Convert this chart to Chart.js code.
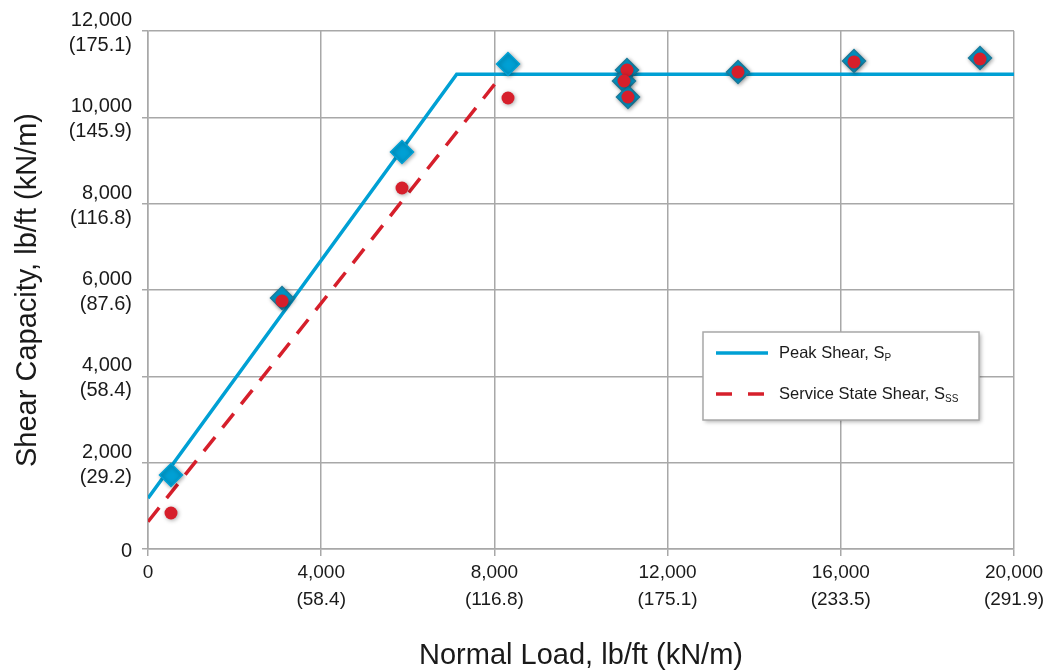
<!DOCTYPE html>
<html>
<head>
<meta charset="utf-8">
<script src="https://cdn.jsdelivr.net/npm/chart.js@4"></script>
<style>
  html, body { margin: 0; padding: 0; background: #fff; }
  #wrap { width: 1043px; height: 670px; position: relative; }
</style>
</head>
<body>
<div id="wrap"><canvas id="chart"></canvas></div>
<script>
// measured test points (lb/ft)
const loadX = [531, 3095, 5866, 8314, 11062, 10993, 11085, 13626, 16305, 19215];
const peakY = [1714, 5815, 9197, 11236, 11097, 10842, 10471, 11051, 11306, 11375];
const serviceY = [834, 5745, 8363, 10448, 11097, 10842, 10471, 11051, 11283, 11352];

// design envelopes
const peakLineX = [0, 7129, 20000];
const peakLineY = [1174, 10998, 10998];
const serviceLineX = [0, 8188];
const serviceLineY = [632, 10998];

// tick labels
const xTicks = [0, 4000, 8000, 12000, 16000, 20000];
const xTickLb = ["0", "4,000", "8,000", "12,000", "16,000", "20,000"];
const xTickKn = ["", "(58.4)", "(116.8)", "(175.1)", "(233.5)", "(291.9)"];
const yTicks = [0, 2000, 4000, 6000, 8000, 10000, 12000];
const yTickLb = ["0", "2,000", "4,000", "6,000", "8,000", "10,000", "12,000"];
const yTickKn = ["", "(29.2)", "(58.4)", "(87.6)", "(116.8)", "(145.9)", "(175.1)"];

const seriesNames = ["Peak Shear, S", "Service State Shear, S"];
const seriesSubs = ["P", "SS"];

const BLUE = "#00a0d4";
const RED = "#d61f2b";
const GRID = "#a8a8a8";
const TEXT = "#1a1a1a";
const FONT = "'Liberation Sans', Arial, sans-serif";

function pts(xs, ys) {
  return xs.map((x, i) => ({ x: x, y: ys[i] }));
}

function tickLabel(v, ticks, lb, kn) {
  const i = ticks.indexOf(v);
  if (i < 0) return "";
  return kn[i] ? [lb[i], kn[i]] : lb[i];
}

// darker rim on diamonds that sit under a red dot
const diamondBorder = loadX.map((x, i) =>
  Math.abs(peakY[i] - serviceY[i]) < 150 ? "#1b7c9c" : BLUE
);

const shadowPlugin = {
  id: "shadow",
  beforeDatasetDraw(chart, args) {
    if (args.index > 1) return;
    const c = chart.ctx;
    c.save();
    c.shadowColor = "rgba(0,0,0,0.35)";
    c.shadowBlur = 4;
    c.shadowOffsetX = 1;
    c.shadowOffsetY = 1;
  },
  afterDatasetDraw(chart, args) {
    if (args.index > 1) return;
    chart.ctx.restore();
  },
};

const legendPlugin = {
  id: "boxLegend",
  afterDraw(chart) {
    const c = chart.ctx;
    const x = 703, y = 332, w = 276, h = 88;
    c.save();
    c.shadowColor = "rgba(0,0,0,0.3)";
    c.shadowBlur = 4;
    c.shadowOffsetX = 2;
    c.shadowOffsetY = 2;
    c.fillStyle = "#fff";
    c.fillRect(x, y, w, h);
    c.restore();
    c.save();
    c.strokeStyle = GRID;
    c.lineWidth = 1.5;
    c.strokeRect(x, y, w, h);

    const rows = [353, 394];
    const colors = [BLUE, RED];
    const dashes = [[], [16, 16]];
    rows.forEach((ry, i) => {
      c.beginPath();
      c.strokeStyle = colors[i];
      c.lineWidth = 3.5;
      c.setLineDash(dashes[i]);
      c.moveTo(716, ry);
      c.lineTo(768, ry);
      c.stroke();
      c.setLineDash([]);
      c.fillStyle = TEXT;
      c.textBaseline = "middle";
      c.font = "16.5px " + FONT;
      c.fillText(seriesNames[i], 779, ry);
      const tw = c.measureText(seriesNames[i]).width;
      c.font = "10px " + FONT;
      c.fillText(seriesSubs[i], 779 + tw, ry + 5);
    });
    c.restore();
  },
};

new Chart(document.getElementById("chart"), {
  type: "scatter",
  data: {
    datasets: [
      {
        label: "Service test",
        data: pts(loadX, serviceY),
        pointStyle: "circle",
        pointRadius: 6.5,
        pointHoverRadius: 6.5,
        backgroundColor: RED,
        borderWidth: 0,
      },
      {
        label: "Peak test",
        data: pts(loadX, peakY),
        pointStyle: "rectRot",
        pointRadius: 11.5,
        pointHoverRadius: 11.5,
        backgroundColor: BLUE,
        borderColor: diamondBorder,
        borderWidth: 1.5,
      },
      {
        label: seriesNames[0],
        data: pts(peakLineX, peakLineY),
        showLine: true,
        borderColor: BLUE,
        borderWidth: 3.5,
        pointRadius: 0,
        fill: false,
      },
      {
        label: seriesNames[1],
        data: pts(serviceLineX, serviceLineY),
        showLine: true,
        borderColor: RED,
        borderWidth: 3.5,
        borderDash: [18, 12],
        pointRadius: 0,
        fill: false,
      },
    ],
  },
  options: {
    responsive: true,
    maintainAspectRatio: false,
    animation: false,
    layout: {
      padding: { top: 31, right: 29, left: 0, bottom: 0 },
    },
    scales: {
      x: {
        type: "linear",
        min: 0,
        max: 20000,
        afterFit(scale) {
          scale.height = 121;
          scale.paddingLeft = 0;
          scale.paddingRight = 0;
        },
        afterBuildTicks(scale) {
          scale.ticks = xTicks.map((v) => ({ value: v }));
        },
        border: { color: GRID, width: 1.5 },
        grid: { color: GRID, lineWidth: 1.5, tickLength: 7 },
        ticks: {
          color: TEXT,
          font: { family: FONT, size: 19, lineHeight: 1.38 },
          padding: 4,
          maxRotation: 0,
          callback: (v) => tickLabel(v, xTicks, xTickLb, xTickKn),
        },
        title: {
          display: true,
          text: "Normal Load, lb/ft (kN/m)",
          color: TEXT,
          font: { family: FONT, size: 29 },
          padding: { top: 0, bottom: -3 },
        },
      },
      y: {
        type: "linear",
        min: 0,
        max: 12000,
        afterFit(scale) {
          scale.width = 148;
          scale.paddingTop = 0;
          scale.paddingBottom = 0;
        },
        afterBuildTicks(scale) {
          scale.ticks = yTicks.map((v) => ({ value: v }));
        },
        border: { color: GRID, width: 1.5 },
        grid: { color: GRID, lineWidth: 1.5, tickLength: 6 },
        ticks: {
          color: TEXT,
          font: { family: FONT, size: 20, lineHeight: 1.25 },
          padding: 10,
          labelOffset: 2,
          callback: (v) => tickLabel(v, yTicks, yTickLb, yTickKn),
        },
        title: {
          display: true,
          text: "Shear Capacity, lb/ft (kN/m)",
          color: TEXT,
          font: { family: FONT, size: 29 },
          padding: { top: 11, bottom: 0 },
        },
      },
    },
    plugins: {
      legend: { display: false },
      tooltip: { enabled: false },
    },
  },
  plugins: [shadowPlugin, legendPlugin],
});
</script>
</body>
</html>
